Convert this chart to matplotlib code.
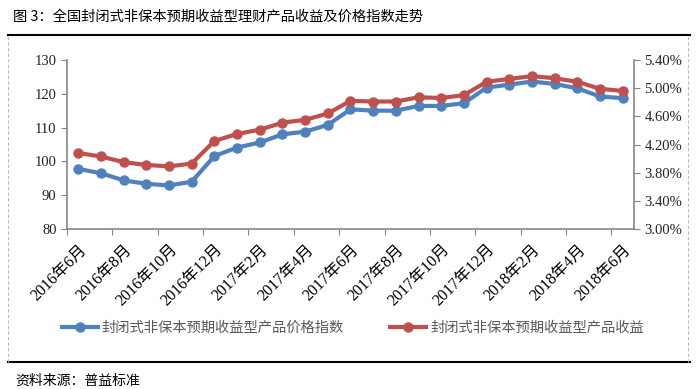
import matplotlib.pyplot as plt
import matplotlib.transforms as mtransforms
from matplotlib.lines import Line2D
from matplotlib.ticker import FuncFormatter

plt.rcParams['font.family'] = ['Liberation Serif', 'Noto Sans CJK SC', 'DejaVu Sans']

months = ['2016年6月', '2016年7月', '2016年8月', '2016年9月', '2016年10月', '2016年11月',
          '2016年12月', '2017年1月', '2017年2月', '2017年3月', '2017年4月', '2017年5月',
          '2017年6月', '2017年7月', '2017年8月', '2017年9月', '2017年10月', '2017年11月',
          '2017年12月', '2018年1月', '2018年2月', '2018年3月', '2018年4月', '2018年5月',
          '2018年6月']
price_index = [97.8, 96.5, 94.4, 93.4, 92.9, 94.0, 101.6, 104.1, 105.6, 108.0, 108.8, 110.8,
               115.4, 115.0, 115.0, 116.4, 116.4, 117.2, 121.8, 122.7, 123.6, 122.9, 121.6,
               119.2, 118.7]
yield_pct = [4.08, 4.03, 3.95, 3.91, 3.89, 3.93, 4.25, 4.35, 4.41, 4.51, 4.55, 4.64,
             4.82, 4.81, 4.81, 4.87, 4.86, 4.90, 5.09, 5.13, 5.17, 5.14, 5.09, 4.99, 4.96]
left_ticks = [80, 90, 100, 110, 120, 130]
right_ticks = [3.0, 3.4, 3.8, 4.2, 4.6, 5.0, 5.4]

name_index = '封闭式非保本预期收益型产品价格指数'
name_yield = '封闭式非保本预期收益型产品收益'
title = '图 3：全国封闭式非保本预期收益型理财产品收益及价格指数走势'
source = '资料来源：普益标准'

blue = '#4F81BD'
red = '#C0504D'
axis_grey = '#868686'
cjk = ['Noto Sans CJK SC', 'DejaVu Sans']

fig = plt.figure(figsize=(7, 3.89), dpi=100)
ax = fig.add_axes([0.0957, 0.411, 0.81, 0.435])
ax2 = ax.twinx()

x = list(range(len(months)))
ax.plot(x, price_index, color=blue, lw=3, marker='o', ms=6.5, zorder=3)
ax2.plot(x, yield_pct, color=red, lw=3, marker='o', ms=6.5, zorder=3)

ax.set_xlim(-0.5, len(months) - 0.5)
ax.set_ylim(left_ticks[0], left_ticks[-1])
ax.set_yticks(left_ticks)
ax2.set_ylim(right_ticks[0], right_ticks[-1])
ax2.set_yticks(right_ticks)
ax2.yaxis.set_major_formatter(FuncFormatter(lambda v, p: f'{v:.2f}%'))

# tick marks on category boundaries, labels every second month
ax.set_xticks([i - 0.5 for i in range(0, len(months), 2)])
ax.set_xticklabels([])
ax.set_xticks(x[::2], minor=True)
ax.set_xticklabels(months[::2], minor=True, rotation=45, ha='right', va='center',
                   rotation_mode='anchor', fontsize=11.5)
ax.tick_params(axis='x', which='minor', length=0, pad=13)
ax.tick_params(axis='x', which='major', length=4, color=axis_grey, direction='out')
shift = mtransforms.ScaledTranslation(6 / 100, 0, fig.dpi_scale_trans)
for lab in ax.xaxis.get_minorticklabels():
    lab.set_transform(lab.get_transform() + shift)

for a in (ax, ax2):
    for s in ('top', 'right', 'left', 'bottom'):
        a.spines[s].set_visible(False)
    a.tick_params(axis='y', length=4, color=axis_grey, labelsize=10.5, labelcolor='#222222')
ax.spines['left'].set_visible(True)
ax.spines['bottom'].set_visible(True)
ax2.spines['right'].set_visible(True)
for s in (ax.spines['left'], ax.spines['bottom'], ax2.spines['right']):
    s.set_color(axis_grey)
    s.set_linewidth(1.2)

# legend
handles = [Line2D([], [], color=blue, lw=3, marker='o', ms=6.5),
           Line2D([], [], color=red, lw=3, marker='o', ms=6.5)]
fig.legend(handles, [name_index, name_yield], loc='center', bbox_to_anchor=(0.504, 0.157),
           ncol=2, frameon=False, handlelength=2.5, columnspacing=3.2, handletextpad=0.3,
           prop={'family': cjk, 'size': 10.3}, labelcolor='#595959')

# outer frame
fig.add_artist(Line2D([0.012, 0.985], [0.91, 0.91], color='black', lw=1.5))
fig.add_artist(Line2D([0.012, 0.985], [0.069, 0.069], color='black', lw=1.5))
for xx in (0.012, 0.983):
    fig.add_artist(Line2D([xx, xx], [0.069, 0.907], color='#BBBBBB', lw=0.8, ls=(0, (3, 2))))

fig.text(0.019, 0.958, title, fontsize=10.3, fontweight='medium', family=cjk, va='center')
fig.text(0.022, 0.021, source, fontsize=10, fontweight='medium', family=cjk, va='center')

fig.savefig('out.png', dpi=100)
